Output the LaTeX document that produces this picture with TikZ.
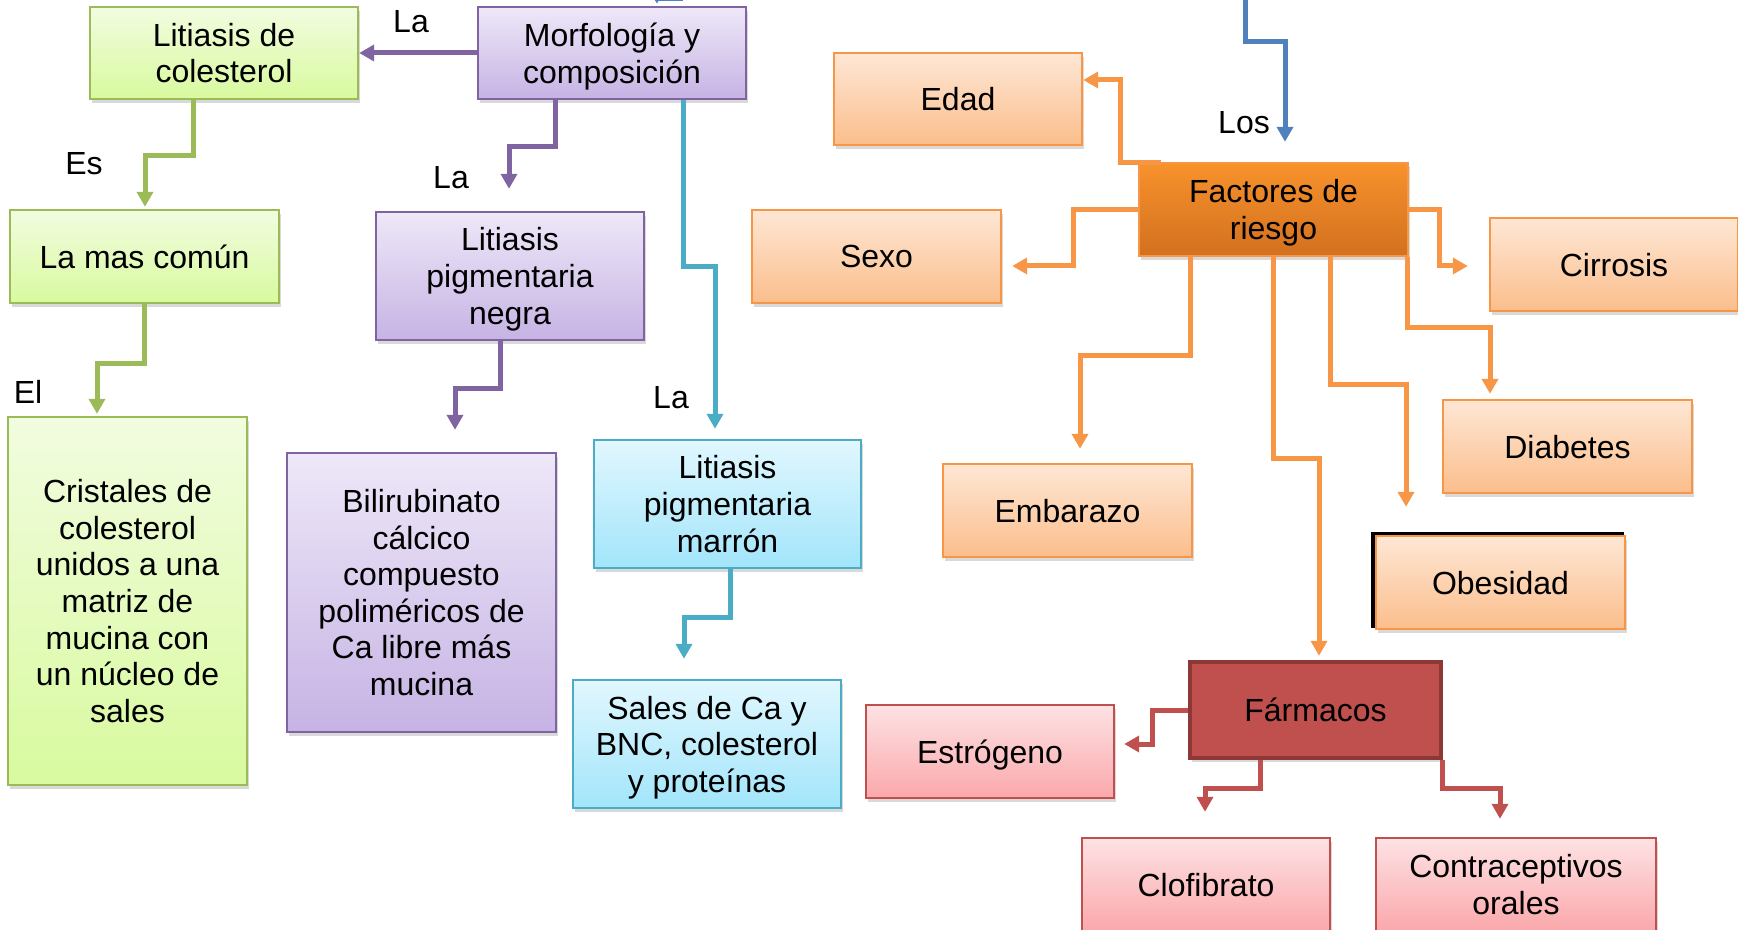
\documentclass[tikz,border=0pt]{standalone}
\usepackage{fontspec}
\setmainfont{Liberation Sans}
\usetikzlibrary{calc,arrows.meta,shadows}

\definecolor{grnline}{HTML}{9BBB59}
\definecolor{purline}{HTML}{8064A2}
\definecolor{cyanline}{HTML}{4BACC6}
\definecolor{orgline}{HTML}{F79646}
\definecolor{blueline}{HTML}{4F81BD}
\definecolor{redline}{HTML}{C0504D}
\definecolor{darkred}{HTML}{8C3836}

\begin{document}
\begin{tikzpicture}[x=0.5pt,y=-0.5pt,
	every node/.style={font=\fontsize{16pt}{18.3pt}\selectfont,align=center,inner sep=0pt,text depth=0pt},
	wh/.style 2 args={minimum width=#1*0.5pt,minimum height=#2*0.5pt},
	box/.style={rectangle,line width=1.2pt,
		drop shadow={shadow xshift=1.2pt,shadow yshift=-2pt,opacity=.3}},
	grnbox/.style={box,draw=grnline,top color={rgb,255:red,242;green,252;blue,224},bottom color={rgb,255:red,216;green,250;blue,158}},
	purbox/.style={box,draw=purline,top color={rgb,255:red,238;green,232;blue,248},bottom color={rgb,255:red,198;green,179;blue,228}},
	cyanbox/.style={box,draw=cyanline,top color={rgb,255:red,225;green,247;blue,254},bottom color={rgb,255:red,162;green,229;blue,251}},
	orgbox/.style={box,draw=orgline,top color={rgb,255:red,254;green,231;blue,213},bottom color={rgb,255:red,251;green,190;blue,140}},
	facbox/.style={box,draw=orgline,top color={rgb,255:red,248;green,146;blue,44},bottom color={rgb,255:red,210;green,112;blue,31}},
	farmbox/.style={box,draw=darkred,line width=2.2pt,fill=redline},
	pinkbox/.style={box,draw=redline,top color={rgb,255:red,253;green,226;blue,228},bottom color={rgb,255:red,251;green,168;blue,171}},
	arr/.style={line width=2.5pt,-{Triangle[length=7.5pt,width=8pt]}},
	grnarr/.style={arr,grnline},
	purarr/.style={arr,purline},
	cyanarr/.style={arr,cyanline},
	orgarr/.style={arr,orgline},
	bluearr/.style={arr,blueline},
	redarr/.style={arr,redline}
	]
	\useasboundingbox (0,0) rectangle (1738,930);
	
	%left part: colesterol and pigment stones
	\node[grnbox,wh={268}{92}] (litcol) at (224,53) {Litiasis de\\colesterol};
	\node[grnbox,wh={269}{93}] (comun) at (144.5,256.5) {La mas común};
	\node[grnbox,wh={239}{368}] (cristal) at (127.5,601) {Cristales de\\colesterol\\unidos a una\\matriz de\\mucina con\\un núcleo de\\sales};
	
	\node[purbox,wh={268}{92}] (morf) at (612,53) {Morfología y\\composición};
	\node[purbox,wh={268}{128}] (negra) at (510,276) {Litiasis\\pigmentaria\\negra};
	\node[purbox,wh={269}{279}] (bili) at (421.5,592.5) {Bilirubinato\\cálcico\\compuesto\\poliméricos de\\Ca libre más\\mucina};
	
	\node[cyanbox,wh={267}{128}] (marron) at (727.5,504) {Litiasis\\pigmentaria\\marrón};
	\node[cyanbox,wh={268}{128}] (sales) at (707,744) {Sales de Ca y\\BNC, colesterol\\y proteínas};
	
	%right part: risk factors
	\node[orgbox,wh={248}{92}] (edad) at (958,99) {Edad};
	\node[orgbox,wh={249}{93}] (sexo) at (876.5,256.5) {Sexo};
	\node[facbox,wh={269}{93}] (fac) at (1273.5,209.5) {Factores de\\riesgo};
	\node[orgbox,wh={248}{93}] (cirr) at (1614,264.5) {Cirrosis};
	\node[orgbox,wh={249}{93}] (diab) at (1567.5,446.5) {Diabetes};
	\node[orgbox,wh={249}{93}] (emb) at (1067.5,510.5) {Embarazo};
	\fill[black] (1371,532) rectangle (1624,628);
	\node[orgbox,wh={249}{93}] (obes) at (1500.5,582.5) {Obesidad};
	
	\node[farmbox,wh={251}{96}] (farm) at (1315.5,710) {Fármacos};
	\node[pinkbox,wh={248}{93}] (estr) at (990,751.5) {Estrógeno};
	\node[pinkbox,wh={248}{93}] (clof) at (1206,884.5) {Clofibrato};
	\node[pinkbox,wh={280}{93}] (contra) at (1516,884.5) {Contraceptivos\\orales};
	
	%link words
	\node (la1) at (411,21) {La};
	\node (la2) at (451,177) {La};
	\node (la3) at (671,397) {La};
	\node (es) at (84,163) {Es};
	\node (el) at (28,392) {El};
	\node (los) at (1244,122) {Los};
	
	%connectors
	\draw[purarr] (morf.west) -- (litcol.east);
	\draw[purarr] ($(morf.south)+(-57,0)$) -- ++(0,46) -| ($(negra.north)+(-1,-22)$);
	\draw[purarr] ($(negra.south)+(-10,0)$) -- ++(0,47) -| ($(bili.north)+(33.5,-22)$);
	
	\draw[grnarr] ($(litcol.south)+(-31,0)$) -- ++(0,55) -| ($(comun.north)+(0.5,-2)$);
	\draw[grnarr] (comun.south) -- ++(0,59) -| ($(cristal.north)+(-30.5,-2)$);
	
	\draw[cyanarr] ($(morf.south)+(71,0)$) -- ++(0,166) -| ($(marron.north)+(-12.5,-10)$);
	\draw[cyanarr] ($(marron.south)+(2.5,0)$) -- ++(0,48) -| ($(sales.north)+(-23,-20)$);
	
	\coordinate (topa) at (683,-1);
	\coordinate (topb) at (1245,-20);
	\draw[bluearr] (topa) -| ($(morf.north)+(45,-2)$);
	\draw[bluearr] (topb) -- ++(0,62) -| ($(fac.north)+(11.5,-20)$);
	
	\draw[orgarr] ($(fac.north west)+(23,1)$) -- ++(-40,0) |- ($(edad.east)+(0,-19)$);
	\draw[orgarr] (fac.west) -- ++(-64,0) |- ($(sexo.east)+(10,9.5)$);
	\draw[orgarr] (fac.east) -- ++(30,0) |- ($(cirr.west)+(-21,1.5)$);
	\draw[orgarr] ($(fac.south east)+(-2,0)$) -- ++(0,70) -| ($(diab.north)+(-77.5,-5)$);
	\draw[orgarr] ($(fac.south)+(56.5,0)$) -- ++(0,127) -| ($(obes.north)+(-94.5,-28)$);
	\draw[orgarr] ($(fac.south)+(-83.5,0)$) -- ++(0,98) -| ($(emb.north)+(12.5,-14)$);
	\draw[orgarr] (fac.south) -- ++(0,201) -| ($(farm.north)+(3.5,-4)$);
	
	\draw[redarr] (farm.west) -- ++(-35,0) |- ($(estr.east)+(9,-7.5)$);
	\draw[redarr] ($(farm.south)+(-55.5,0)$) -- ++(0,28) -| ($(clof.north)+(-1,-25)$);
	\draw[redarr] ($(farm.south east)+(-1,0)$) -- ++(0,28) -| ($(contra.north)+(-16,-18)$);
	
\end{tikzpicture}
\end{document}
